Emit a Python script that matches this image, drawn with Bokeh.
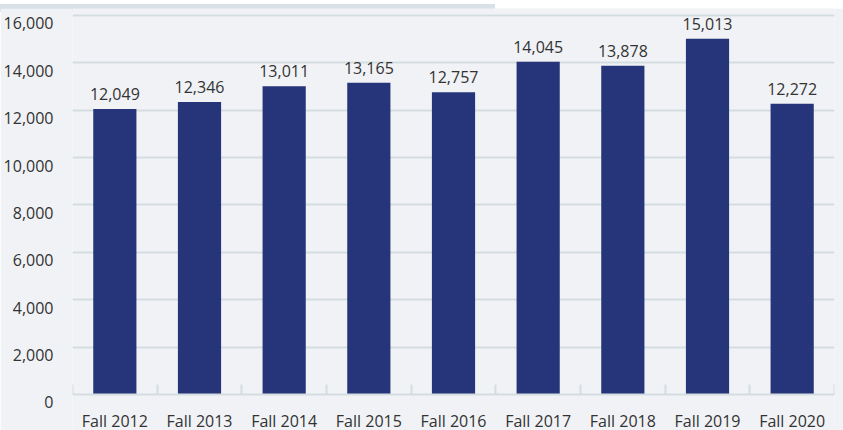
from bokeh.plotting import figure
from bokeh.models import Range1d, FixedTicker, LabelSet, ColumnDataSource, Div, NumeralTickFormatter
from bokeh.layouts import column
from bokeh.core.properties import value
from bokeh.embed import file_html
from bokeh.resources import INLINE

terms = ["Fall 2012", "Fall 2013", "Fall 2014", "Fall 2015", "Fall 2016",
         "Fall 2017", "Fall 2018", "Fall 2019", "Fall 2020"]
enrollment = [12049, 12346, 13011, 13165, 12757, 14045, 13878, 15013, 12272]
y_ticks = [0, 2000, 4000, 6000, 8000, 10000, 12000, 14000, 16000]

BG = "#f0f2f6"
BAR = "#263479"
GRID = "#d3dde0"
TXT = "#333333"
STRIP = "#d9e1e8"
FONT = "Open Sans"

FIG_H = 422
BORDER_B = 0
Y_START, Y_END = -1520, 16295
LABEL_DROP_PX = 8   # y tick labels sit just below their gridlines

n = len(terms)
xpos = [i + 0.5 for i in range(n)]
src = ColumnDataSource(dict(x=xpos, y=enrollment,
                            lab=[f"{v:,}" for v in enrollment]))

frame_h = FIG_H - BORDER_B
drop = LABEL_DROP_PX * (Y_END - Y_START) / frame_h

p = figure(width=843, height=FIG_H, output_backend="svg", toolbar_location=None,
           x_range=Range1d(0, n), y_range=Range1d(Y_START, Y_END),
           background_fill_color=BG, border_fill_color=BG,
           min_border_left=72, min_border_right=9, min_border_top=0,
           min_border_bottom=BORDER_B)
p.outline_line_color = None
p.extra_y_ranges = {"lab": Range1d(Y_START + drop, Y_END + drop)}

p.vbar(x="x", top="y", width=0.51, source=src, color=BAR, line_color=None)

labels = LabelSet(x="x", y="y", text="lab", source=src, text_align="center",
                  text_baseline="alphabetic", y_offset=9, text_font=value(FONT),
                  text_font_size="16px", text_color=TXT)
p.add_layout(labels)

p.xgrid.visible = False
p.ygrid.ticker = FixedTicker(ticks=y_ticks[1:])
p.ygrid.grid_line_color = GRID
p.ygrid.grid_line_width = 2

xa = p.xaxis[0]
xa.fixed_location = 0
xa.ticker = FixedTicker(ticks=xpos, minor_ticks=list(range(n + 1)))
xa.major_label_overrides = {x: t for x, t in zip(xpos, terms)}
xa.major_tick_in = 0
xa.major_tick_out = 0
xa.minor_tick_in = 10
xa.minor_tick_out = 0
xa.minor_tick_line_color = GRID
xa.minor_tick_line_width = 2
xa.axis_line_color = GRID
xa.axis_line_width = 2
xa.major_label_standoff = 16
xa.major_label_text_font = FONT
xa.major_label_text_font_size = "16px"
xa.major_label_text_color = TXT

ya = p.yaxis[0]
ya.y_range_name = "lab"
ya.ticker = FixedTicker(ticks=y_ticks)
ya.formatter = NumeralTickFormatter(format="0,0")
ya.axis_line_color = None
ya.major_tick_line_color = None
ya.minor_tick_line_color = None
ya.major_label_standoff = 13
ya.major_label_text_font = FONT
ya.major_label_text_font_size = "16px"
ya.major_label_text_color = TXT

strip = Div(width=843, height=8, margin=0,
            text=f'<div style="width:495px;height:8px;background:{STRIP}"></div>',
            styles={"background": "#ffffff"})

layout = column(strip, p, spacing=0)

open("out.html", "w").write(file_html(layout, INLINE))
